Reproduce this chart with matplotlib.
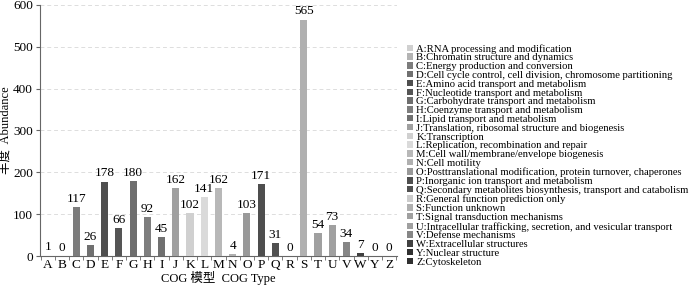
import numpy as np
import matplotlib
matplotlib.use("Agg")
import matplotlib.pyplot as plt
from matplotlib.patches import Patch

plt.rcParams['font.family'] = ['Liberation Serif', 'Noto Sans CJK SC']

# COG categories, abundances and bar greys
cats = list("ABCDEFGHIJKLMNOPQRSTUVWYZ")
values = [1, 0, 117, 26, 178, 66, 180, 92, 45, 162, 102, 141, 162, 4, 103,
          171, 31, 0, 565, 54, 73, 34, 7, 0, 0]
greys = ["#d0d0d0", "#b4b4b4", "#7c7c7c", "#707070", "#4e4e4e", "#555555",
         "#6e6e6e", "#7e7e7e", "#707070", "#a0a0a0", "#d0d0d0", "#dadada",
         "#b8b8b8", "#b0b0b0", "#999999", "#4e4e4e", "#505050", "#cccccc",
         "#b0b0b0", "#a0a0a0", "#a0a0a0", "#868686", "#404040", "#303030",
         "#303030"]
descs = [
    "RNA processing and modification",
    "Chromatin structure and dynamics",
    "Energy production and conversion",
    "Cell cycle control, cell division, chromosome partitioning",
    "Amino acid transport and metabolism",
    "Nucleotide transport and metabolism",
    "Carbohydrate transport and metabolism",
    "Coenzyme transport and metabolism",
    "Lipid transport and metabolism",
    "Translation, ribosomal structure and biogenesis",
    "Transcription",
    "Replication, recombination and repair",
    "Cell wall/membrane/envelope biogenesis",
    "Cell motility",
    "Posttranslational modification, protein turnover, chaperones",
    "Inorganic ion transport and metabolism",
    "Secondary metabolites biosynthesis, transport and catabolism",
    "General function prediction only",
    "Function unknown",
    "Signal transduction mechanisms",
    "Intracellular trafficking, secretion, and vesicular transport",
    "Defense mechanisms",
    "Extracellular structures",
    "Nuclear structure",
    "Cytoskeleton",
]

fig = plt.figure(figsize=(7, 2.87), dpi=100)
ax = fig.add_axes([0.057, 0.108, 0.51, 0.875])

x = np.arange(len(cats))
ax.bar(x, values, width=0.5, color=greys, zorder=3)
for xi, v in zip(x, values):
    ax.text(xi, v + 5, str(v), ha="center", va="bottom", fontsize=9.5)

ax.set_ylim(0, 600)
ax.set_xlim(-0.55, len(cats) - 0.45)
ax.set_yticks(range(0, 601, 100))
ax.yaxis.grid(True, linestyle=(0, (4, 3)), color="#dddddd", linewidth=0.7, zorder=0)
ax.set_xticks(x)
ax.set_xticklabels(cats)
ax.set_xticks(np.arange(-0.5, len(cats), 1), minor=True)
ax.tick_params(axis="x", which="major", length=0, labelsize=9.5, pad=2)
ax.tick_params(axis="x", which="minor", length=3, color="#666666")
ax.tick_params(axis="y", labelsize=9.5, length=3, color="#666666", pad=2)
for s in ["top", "right"]:
    ax.spines[s].set_visible(False)
for s in ["left", "bottom"]:
    ax.spines[s].set_color("#666666")

ax.set_xlabel("COG 模型  COG Type", fontsize=9, labelpad=0)
ax.set_ylabel("丰度  Abundance", fontsize=9, labelpad=1)

handles = [Patch(facecolor=g, edgecolor="none") for g in greys]
labels = [f"{c}:{d}" for c, d in zip(cats, descs)]
fig.legend(handles, labels, loc="upper left", bbox_to_anchor=(0.582, 0.847),
           frameon=False, fontsize=7.7, handlelength=0.55, handleheight=0.55,
           handletextpad=0.3, labelspacing=-0.02, borderaxespad=0,
           borderpad=0)

fig.savefig("out.png", dpi=100)
